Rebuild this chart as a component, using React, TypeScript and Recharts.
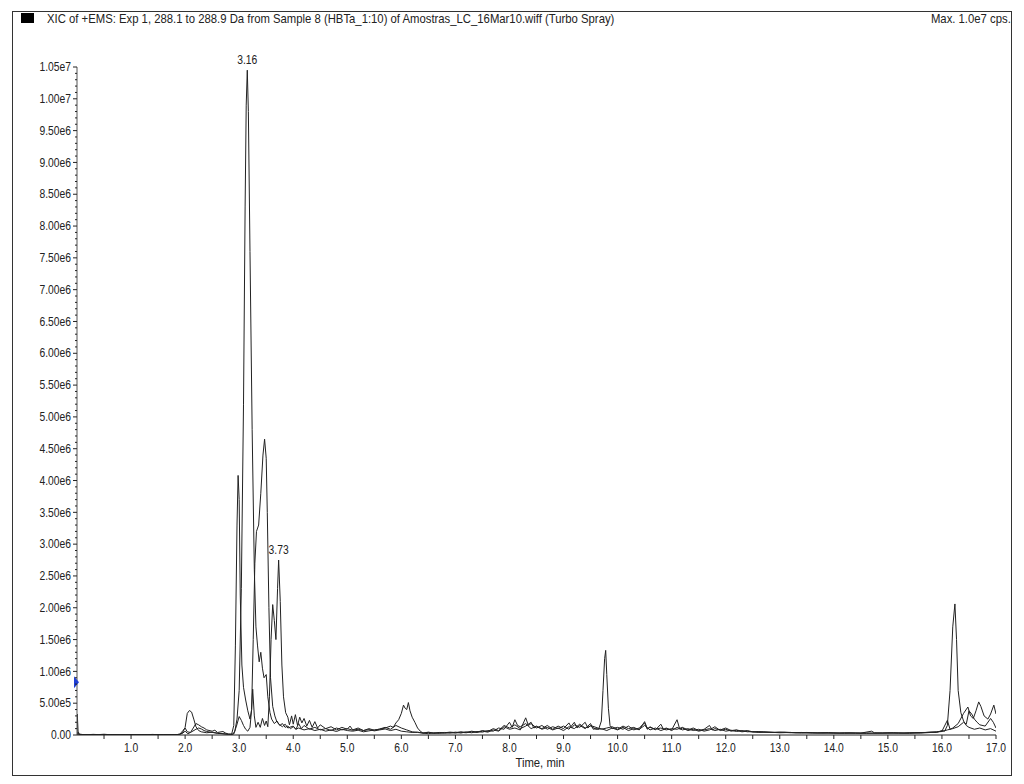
import { LineChart, Line, XAxis, YAxis, ReferenceDot } from "recharts"

// XIC traces, [time (min), intensity (kcps)]
const traceA: [number, number][] = [
  [0, 0], [0.005, 330], [0.02, 60], [0.04, 15], [0.1, 8], [0.2, 5], [0.3, 10], [0.4, 6], [0.5, 12], [0.6, 5],
  [0.7, 8], [0.8, 4], [0.9, 6], [1.0, 5], [1.1, 7], [1.2, 4], [1.3, 6], [1.4, 9], [1.5, 5], [1.6, 4],
  [1.7, 6], [1.8, 5], [1.9, 8], [1.95, 30], [2.0, 120], [2.04, 340], [2.08, 385], [2.12, 360], [2.16, 250], [2.2, 130],
  [2.25, 70], [2.3, 50], [2.4, 35], [2.5, 45], [2.6, 25], [2.7, 20], [2.8, 12], [2.88, 10], [2.92, 60], [2.96, 250],
  [3.0, 700], [3.04, 2300], [3.08, 5200], [3.11, 8300], [3.13, 9900], [3.15, 10450], [3.17, 9800], [3.2, 7600], [3.24, 4800], [3.28, 2600],
  [3.31, 1700], [3.34, 1400], [3.37, 1150], [3.4, 1300], [3.43, 1050], [3.46, 900], [3.5, 950], [3.53, 600], [3.57, 350], [3.6, 250],
  [3.65, 180], [3.7, 220], [3.75, 150], [3.8, 180], [3.85, 120], [3.9, 140], [3.95, 100], [4.0, 130], [4.05, 90], [4.1, 110],
  [4.2, 80], [4.3, 100], [4.4, 70], [4.5, 90], [4.6, 60], [4.7, 80], [4.8, 55], [4.9, 90], [5.0, 70], [5.1, 60],
  [5.2, 75], [5.3, 50], [5.4, 65], [5.5, 80], [5.6, 90], [5.7, 110], [5.8, 140], [5.85, 120], [5.9, 190], [5.95, 240],
  [6.0, 340], [6.04, 470], [6.07, 420], [6.1, 400], [6.13, 510], [6.16, 380], [6.2, 280], [6.25, 200], [6.3, 110], [6.35, 60],
  [6.4, 30], [6.5, 20], [6.6, 35], [6.7, 25], [6.8, 40], [6.9, 30], [7.0, 45], [7.1, 30], [7.2, 50], [7.3, 35],
  [7.4, 55], [7.5, 45], [7.6, 70], [7.7, 60], [7.8, 110], [7.9, 90], [8.0, 200], [8.05, 120], [8.1, 240], [8.15, 150],
  [8.2, 130], [8.3, 180], [8.4, 100], [8.5, 140], [8.6, 90], [8.7, 120], [8.8, 80], [8.9, 110], [9.0, 70], [9.1, 130],
  [9.2, 100], [9.3, 170], [9.4, 110], [9.5, 140], [9.6, 90], [9.7, 100], [9.8, 70], [9.9, 110], [10.0, 80], [10.1, 120],
  [10.2, 70], [10.3, 100], [10.4, 90], [10.5, 150], [10.6, 80], [10.7, 110], [10.8, 70], [10.9, 100], [11.0, 80], [11.1, 240],
  [11.15, 90], [11.2, 110], [11.3, 70], [11.4, 90], [11.5, 60], [11.6, 80], [11.7, 100], [11.8, 70], [11.9, 90], [12.0, 60],
  [12.1, 75], [12.2, 55], [12.3, 70], [12.4, 50], [12.5, 55], [12.6, 40], [12.8, 45], [13.0, 35], [13.2, 40], [13.4, 30],
  [13.6, 35], [13.8, 28], [14.0, 32], [14.2, 26], [14.4, 30], [14.6, 25], [14.8, 30], [15.0, 28], [15.2, 32], [15.4, 26],
  [15.6, 35], [15.8, 45], [15.9, 40], [16.0, 70], [16.05, 60], [16.1, 150], [16.15, 700], [16.2, 1700], [16.24, 2060], [16.27, 1500],
  [16.3, 700], [16.35, 350], [16.4, 220], [16.45, 150], [16.5, 120], [16.6, 90], [16.7, 110], [16.8, 80], [16.9, 100], [17.0, 60],
]

const traceB: [number, number][] = [
  [0, 0], [0.01, 40], [0.05, 8], [0.15, 4], [0.25, 7], [0.35, 3], [0.45, 8], [0.55, 4], [0.65, 6], [0.75, 3],
  [0.85, 5], [0.95, 4], [1.05, 6], [1.15, 3], [1.25, 5], [1.35, 4], [1.45, 7], [1.55, 3], [1.65, 5], [1.75, 4],
  [1.85, 6], [1.95, 25], [2.0, 60], [2.05, 20], [2.1, 40], [2.15, 110], [2.2, 180], [2.25, 160], [2.3, 130], [2.35, 110],
  [2.4, 80], [2.5, 60], [2.55, 75], [2.6, 40], [2.7, 55], [2.75, 30], [2.8, 15], [2.86, 10], [2.9, 150], [2.93, 1400],
  [2.96, 3300], [2.98, 4080], [3.0, 3700], [3.02, 2200], [3.05, 1100], [3.08, 750], [3.12, 550], [3.16, 380], [3.2, 250], [3.23, 400],
  [3.26, 1500], [3.29, 2700], [3.32, 3200], [3.36, 3300], [3.4, 3800], [3.44, 4400], [3.47, 4650], [3.5, 4350], [3.52, 3500], [3.55, 2000],
  [3.58, 900], [3.62, 450], [3.66, 300], [3.7, 200], [3.75, 160], [3.8, 130], [3.85, 170], [3.9, 110], [4.0, 140], [4.05, 90],
  [4.1, 180], [4.15, 100], [4.2, 150], [4.3, 90], [4.4, 120], [4.5, 80], [4.6, 100], [4.7, 70], [4.8, 110], [4.9, 80],
  [5.0, 100], [5.1, 75], [5.2, 90], [5.3, 70], [5.4, 85], [5.5, 65], [5.6, 80], [5.7, 95], [5.8, 70], [5.9, 90],
  [6.0, 60], [6.1, 50], [6.2, 40], [6.3, 45], [6.4, 30], [6.5, 40], [6.6, 25], [6.7, 35], [6.8, 28], [6.9, 38],
  [7.0, 30], [7.1, 42], [7.2, 35], [7.3, 50], [7.4, 40], [7.5, 60], [7.6, 45], [7.7, 80], [7.8, 60], [7.9, 130],
  [8.0, 90], [8.1, 110], [8.2, 80], [8.3, 270], [8.35, 150], [8.4, 180], [8.5, 110], [8.6, 150], [8.7, 90], [8.8, 130],
  [8.9, 100], [9.0, 140], [9.1, 90], [9.2, 200], [9.25, 110], [9.3, 150], [9.4, 100], [9.5, 180], [9.55, 90], [9.6, 100],
  [9.65, 90], [9.7, 220], [9.73, 700], [9.76, 1200], [9.78, 1330], [9.8, 950], [9.83, 420], [9.86, 150], [9.9, 100], [10.0, 120],
  [10.1, 90], [10.2, 140], [10.3, 80], [10.4, 110], [10.5, 190], [10.55, 90], [10.6, 130], [10.7, 80], [10.8, 170], [10.85, 90],
  [10.9, 110], [11.0, 70], [11.1, 120], [11.2, 80], [11.3, 100], [11.4, 70], [11.5, 90], [11.6, 60], [11.7, 80], [11.8, 130],
  [11.9, 70], [12.0, 90], [12.1, 60], [12.2, 75], [12.3, 50], [12.4, 60], [12.5, 45], [12.7, 50], [12.9, 40], [13.1, 45],
  [13.3, 35], [13.5, 40], [13.7, 32], [13.9, 38], [14.1, 30], [14.3, 35], [14.5, 30], [14.7, 60], [14.75, 35], [14.9, 32],
  [15.1, 36], [15.3, 30], [15.5, 38], [15.7, 40], [15.9, 50], [16.0, 60], [16.1, 230], [16.15, 90], [16.2, 110], [16.3, 180],
  [16.4, 340], [16.48, 440], [16.53, 300], [16.58, 260], [16.63, 380], [16.68, 520], [16.72, 450], [16.78, 300], [16.85, 250], [16.9, 330],
  [16.96, 470], [17.0, 330],
]

const traceC: [number, number][] = [
  [0, 0], [0.02, 10], [0.1, 3], [0.2, 6], [0.3, 2], [0.4, 5], [0.5, 3], [0.6, 7], [0.7, 2], [0.8, 4],
  [0.9, 3], [1.0, 5], [1.1, 2], [1.2, 4], [1.3, 3], [1.4, 6], [1.5, 2], [1.6, 4], [1.7, 3], [1.8, 5],
  [1.9, 10], [1.96, 70], [2.0, 110], [2.04, 50], [2.1, 40], [2.2, 90], [2.25, 110], [2.3, 95], [2.35, 70], [2.4, 55],
  [2.5, 40], [2.6, 30], [2.7, 20], [2.8, 10], [2.9, 15], [2.95, 140], [3.0, 290], [3.04, 230], [3.08, 150], [3.12, 90],
  [3.16, 60], [3.2, 120], [3.23, 400], [3.25, 720], [3.28, 300], [3.31, 120], [3.35, 200], [3.39, 120], [3.43, 260], [3.47, 150],
  [3.5, 220], [3.53, 130], [3.56, 600], [3.59, 1500], [3.62, 2050], [3.65, 1800], [3.68, 1500], [3.71, 2300], [3.73, 2750], [3.76, 2100],
  [3.79, 1100], [3.82, 600], [3.86, 350], [3.9, 280], [3.93, 160], [3.97, 300], [4.0, 170], [4.04, 320], [4.08, 150], [4.12, 280],
  [4.16, 190], [4.2, 260], [4.25, 140], [4.3, 230], [4.35, 120], [4.4, 210], [4.45, 110], [4.5, 160], [4.6, 100], [4.7, 130],
  [4.8, 80], [4.9, 120], [5.0, 90], [5.05, 140], [5.1, 80], [5.2, 110], [5.3, 70], [5.4, 100], [5.5, 75], [5.6, 95],
  [5.7, 120], [5.8, 90], [5.9, 150], [6.0, 110], [6.1, 80], [6.2, 50], [6.3, 40], [6.4, 30], [6.5, 45], [6.6, 30],
  [6.7, 40], [6.8, 35], [6.9, 45], [7.0, 38], [7.1, 50], [7.2, 40], [7.3, 60], [7.4, 45], [7.5, 70], [7.6, 55],
  [7.7, 100], [7.8, 70], [7.9, 150], [8.0, 110], [8.1, 160], [8.2, 100], [8.3, 140], [8.4, 200], [8.45, 110], [8.5, 130],
  [8.6, 100], [8.7, 150], [8.8, 90], [8.9, 140], [9.0, 100], [9.1, 190], [9.15, 110], [9.2, 160], [9.3, 120], [9.4, 200],
  [9.45, 110], [9.5, 150], [9.6, 120], [9.7, 90], [9.8, 110], [9.9, 130], [10.0, 90], [10.1, 140], [10.2, 100], [10.3, 120],
  [10.4, 80], [10.5, 210], [10.55, 100], [10.6, 120], [10.7, 90], [10.8, 110], [10.9, 80], [11.0, 100], [11.1, 90], [11.2, 120],
  [11.3, 80], [11.4, 110], [11.5, 70], [11.6, 90], [11.7, 150], [11.75, 80], [11.8, 100], [11.9, 80], [12.0, 110], [12.1, 70],
  [12.2, 80], [12.3, 60], [12.4, 70], [12.5, 50], [12.6, 55], [12.8, 40], [13.0, 45], [13.2, 35], [13.4, 40], [13.6, 30],
  [13.8, 36], [14.0, 28], [14.2, 34], [14.4, 28], [14.6, 32], [14.8, 27], [15.0, 34], [15.2, 28], [15.4, 35], [15.6, 30],
  [15.8, 40], [16.0, 55], [16.1, 80], [16.2, 100], [16.3, 130], [16.4, 200], [16.45, 170], [16.5, 380], [16.55, 330], [16.6, 250],
  [16.65, 200], [16.7, 160], [16.8, 140], [16.9, 260], [16.95, 200], [17.0, 110],
]

const xTicks = [
  0.5, 1.0, 1.5, 2.0, 2.5, 3.0, 3.5, 4.0, 4.5, 5.0, 5.5, 6.0, 6.5, 7.0, 7.5, 8.0, 8.5,
  9.0, 9.5, 10.0, 10.5, 11.0, 11.5, 12.0, 12.5, 13.0, 13.5, 14.0, 14.5, 15.0, 15.5, 16.0, 16.5, 17.0,
]
// minor ticks every 1e5, labelled every 5e5
const yTicks = Array.from({ length: 106 }, (_, i) => i * 100000)

const peakLabels = [
  { t: 3.15, v: 10450000, text: "3.16" },
  { t: 3.73, v: 2750000, text: "3.73" },
]

const FONT = "'Liberation Sans', Arial, sans-serif"
const SQUEEZE = 0.86
const INK = "#222"

const toPoints = (pairs: [number, number][]) => pairs.map(([t, k]) => ({ t, y: k * 1000 }))

function fmtY(v: number) {
  if (v === 0) return "0.00"
  return v.toExponential(2).replace("e+", "e")
}

// narrow text, like the instrument software's font
function NText({ x, y, anchor, children, dy }: any) {
  return (
    <text
      transform={`translate(${x},${y}) scale(${SQUEEZE},1)`}
      dy={dy}
      textAnchor={anchor}
      fontSize={12}
      fill={INK}
      fontFamily={FONT}
    >
      {children}
    </text>
  )
}

function YTick(props: any) {
  const { x, y, payload } = props
  const v = payload.value
  const major = v % 500000 === 0
  if (!major) return <line x1={x - 2} x2={x} y1={y} y2={y} stroke={INK} />
  return (
    <g>
      <line x1={x - 4} x2={x} y1={y} y2={y} stroke={INK} />
      <NText x={x - 6} y={y} anchor="end" dy="0.35em">{fmtY(v)}</NText>
    </g>
  )
}

function XTick(props: any) {
  const { x, y, payload } = props
  const v = payload.value
  if (!Number.isInteger(v)) return null
  return (
    <NText x={x} y={y} anchor="middle" dy="0.8em">{v.toFixed(1)}</NText>
  )
}

function PeakLabel(props: any) {
  const { cx, cy, text } = props
  return <NText x={cx} y={cy - 6} anchor="middle">{text}</NText>
}

function BlueMark(props: any) {
  const { cx, cy } = props
  return <polygon points={`${cx - 3},${cy - 6} ${cx + 2},${cy} ${cx - 3},${cy + 6}`} fill="#1f3fd6" />
}

const htmlText = { fontSize: 13, color: INK, whiteSpace: "nowrap" as const, fontFamily: FONT }

export default function App() {
  const lines = [traceA, traceB, traceC]
  return (
    <div style={{ position: "relative", width: 1024, height: 784, background: "#fff" }}>
      <style>{"body{margin:0}"}</style>
      <div
        style={{
          position: "absolute", left: 12, top: 11, width: 998, height: 763,
          border: "1px solid #333",
        }}
      />
      <div style={{ position: "absolute", left: 21, top: 13, width: 13, height: 10, background: "#000" }} />
      <div
        style={{
          ...htmlText, position: "absolute", left: 47, top: 11,
          transform: "scaleX(0.87)", transformOrigin: "left center",
        }}
      >
        XIC of +EMS: Exp 1, 288.1 to 288.9 Da from Sample 8 (HBTa_1:10) of Amostras_LC_16Mar10.wiff (Turbo Spray)
      </div>
      <div
        style={{
          ...htmlText, position: "absolute", right: 13, top: 11,
          transform: "scaleX(0.87)", transformOrigin: "right center",
        }}
      >
        Max. 1.0e7 cps.
      </div>
      <div
        style={{
          ...htmlText, position: "absolute", left: 540, top: 755,
          transform: "translateX(-50%) scaleX(0.87)",
        }}
      >
        Time, min
      </div>
      <div style={{ position: "absolute", left: 0, top: 0 }}>
        <LineChart width={1024} height={784} margin={{ top: 67, right: 28, bottom: 19, left: 0 }}>
          <XAxis
            dataKey="t"
            type="number"
            domain={[0, 17]}
            ticks={xTicks}
            interval={0}
            tickSize={4}
            tickMargin={3}
            height={30}
            allowDataOverflow
            axisLine={{ stroke: INK }}
            tickLine={{ stroke: INK }}
            tick={<XTick />}
          />
          <YAxis
            type="number"
            domain={[0, 10500000]}
            ticks={yTicks}
            interval={0}
            width={77}
            tickSize={0}
            tickMargin={0}
            allowDataOverflow
            axisLine={{ stroke: "#555" }}
            tickLine={false}
            tick={<YTick />}
          />
          {lines.map((tr, i) => (
            <Line
              key={i}
              data={toPoints(tr)}
              dataKey="y"
              type="linear"
              stroke={INK}
              strokeWidth={1}
              dot={false}
              isAnimationActive={false}
            />
          ))}
          {peakLabels.map((p) => (
            <ReferenceDot
              key={p.text}
              x={p.t}
              y={p.v}
              ifOverflow="visible"
              shape={<PeakLabel text={p.text} />}
            />
          ))}
          <ReferenceDot x={0} y={830000} ifOverflow="visible" shape={<BlueMark />} />
        </LineChart>
      </div>
    </div>
  )
}
